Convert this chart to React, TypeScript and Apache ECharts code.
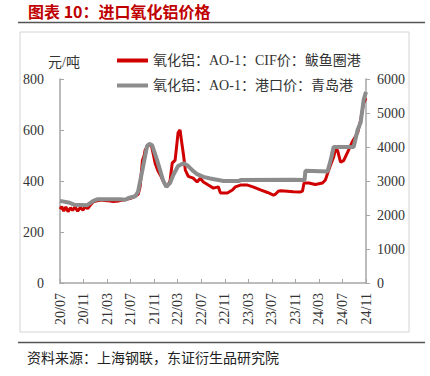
import React, { useEffect, useRef } from "react";
import * as echarts from "echarts";

const TICK_LABELS = ["20/07", "20/11", "21/03", "21/07", "21/11", "22/03", "22/07", "22/11", "23/03", "23/07", "23/11", "24/03", "24/07", "24/11"];

const SERIES_NAMES = ["氧化铝：AO-1：CIF价：鲅鱼圈港", "氧化铝：AO-1：港口价：青岛港"];

const CIF_DATES = [
  "2020-07-01", "2020-07-10", "2020-07-20", "2020-08-01", "2020-08-12", "2020-08-25", "2020-09-05", "2020-09-18",
  "2020-10-01", "2020-10-15", "2020-10-28", "2020-11-10", "2020-11-22", "2020-12-05", "2020-12-20", "2021-01-10",
  "2021-02-01", "2021-03-01", "2021-04-01", "2021-05-01", "2021-06-01", "2021-07-01", "2021-07-24", "2021-08-10",
  "2021-08-20", "2021-09-01", "2021-09-10", "2021-09-15", "2021-10-01", "2021-10-15", "2021-10-28", "2021-11-06",
  "2021-11-20", "2021-12-05", "2021-12-20", "2022-01-07", "2022-01-22", "2022-02-03", "2022-02-18", "2022-03-03",
  "2022-03-13", "2022-03-20", "2022-04-01", "2022-04-10", "2022-04-25", "2022-05-20", "2022-06-10", "2022-06-26",
  "2022-07-12", "2022-08-07", "2022-09-03", "2022-09-28", "2022-10-09", "2022-11-14", "2022-12-10", "2022-12-25",
  "2023-01-21", "2023-02-27", "2023-03-28", "2023-05-03", "2023-06-09", "2023-07-09", "2023-07-19", "2023-08-04",
  "2023-08-15", "2023-09-20", "2023-10-20", "2023-11-27", "2023-12-07", "2023-12-15", "2024-01-10", "2024-02-12",
  "2024-03-19", "2024-04-04", "2024-04-21", "2024-05-16", "2024-05-26", "2024-06-06", "2024-06-21", "2024-07-07",
  "2024-07-28", "2024-08-22", "2024-09-18", "2024-10-04", "2024-10-19", "2024-11-01"
];
const CIF_VALUES = [
  290, 300, 282, 298, 280, 295, 285, 298,
  282, 296, 286, 300, 292, 305, 318, 322,
  325, 323, 320, 322, 326, 332, 340, 348,
  380, 480, 500, 521, 540, 545, 500, 470,
  440, 420, 395, 377, 400, 470, 482, 590,
  600, 560, 500, 443, 418, 411, 396, 411,
  396, 384, 372, 377, 353, 353, 365, 377,
  384, 384, 376, 365, 355, 345, 348, 360,
  362, 360, 358, 357, 360, 392, 392, 386,
  392, 404, 443, 494, 525, 520, 474, 480,
  514, 555, 588, 640, 706, 725
];

const PORT_DATES = [
  "2020-07-01", "2020-08-20", "2020-09-15", "2020-11-20", "2020-12-19", "2021-01-10", "2021-05-07", "2021-06-03",
  "2021-06-20", "2021-07-24", "2021-08-09", "2021-09-01", "2021-09-25", "2021-10-06", "2021-10-21", "2021-11-16",
  "2021-12-16", "2022-01-02", "2022-01-22", "2022-02-08", "2022-03-03", "2022-04-01", "2022-04-25", "2022-05-15",
  "2022-06-10", "2022-07-12", "2022-08-17", "2022-10-25", "2023-01-15", "2023-01-21", "2023-10-16", "2023-12-18",
  "2023-12-22", "2024-04-15", "2024-05-01", "2024-05-16", "2024-08-28", "2024-09-18", "2024-10-04", "2024-10-19",
  "2024-11-01"
];
const PORT_VALUES = [
  2415, 2360, 2300, 2290, 2410, 2460, 2460, 2450,
  2500, 2550, 2685, 3320, 4030, 4090, 4050, 3615,
  3030, 2830, 2940, 3170, 3440, 3525, 3440, 3320,
  3200, 3120, 3075, 3000, 3000, 3030, 3040, 3030,
  3300, 3280, 3615, 4000, 4000, 4500, 4730, 5385,
  5620
];

function toMonth(d: string): number {
  const [y, m, dd] = d.split("-").map(Number);
  return (y - 2020) * 12 + (m - 7) + (dd - 1) / 30;
}

const FONT = "'Liberation Serif', 'Noto Sans CJK SC', serif";
const AXIS_COLOR = "#a6a6a6";
const TEXT_COLOR = "#333333";

export default function App() {
  const ref = useRef<HTMLDivElement>(null);
  useEffect(() => {
    document.body.style.margin = "0";
    if (!ref.current) return;
    const chart = echarts.init(ref.current, null, { renderer: "svg" });
    const cif = CIF_DATES.map((d, i) => [toMonth(d), CIF_VALUES[i]]);
    const port = PORT_DATES.map((d, i) => [toMonth(d), PORT_VALUES[i]]);
    chart.setOption({
      animation: false,
      backgroundColor: "#ffffff",
      textStyle: { fontFamily: FONT },
      grid: { left: 60, right: 64, top: 79, bottom: 93, containLabel: false },
      legend: {
        orient: "vertical",
        left: 112,
        top: 47,
        icon: "rect",
        itemWidth: 31,
        itemHeight: 4,
        itemGap: 8,
        textStyle: { fontFamily: FONT, fontSize: 14, color: TEXT_COLOR, lineHeight: 17 },
        data: SERIES_NAMES,
      },
      xAxis: {
        type: "value",
        min: 0,
        max: 52,
        interval: 4,
        axisLine: { lineStyle: { color: AXIS_COLOR, width: 1.5 } },
        axisTick: { inside: true, length: 4, lineStyle: { color: AXIS_COLOR } },
        splitLine: { show: false },
        axisLabel: {
          rotate: 90,
          margin: 10,
          fontSize: 14,
          color: TEXT_COLOR,
          fontFamily: FONT,
          formatter: (v: number) => TICK_LABELS[Math.round(v / 4)] ?? "",
        },
      },
      yAxis: [
        {
          type: "value",
          min: 0,
          max: 800,
          interval: 200,
          name: "元/吨",
          nameGap: 10,
          nameTextStyle: { fontSize: 14, color: TEXT_COLOR, fontFamily: FONT, padding: [0, 0, 0, 8] },
          axisLine: { show: true, lineStyle: { color: AXIS_COLOR, width: 1.5 } },
          axisTick: { show: true, inside: true, length: 4, lineStyle: { color: AXIS_COLOR } },
          splitLine: { show: false },
          axisLabel: { fontSize: 14, color: TEXT_COLOR, margin: 16, fontFamily: FONT },
        },
        {
          type: "value",
          min: 0,
          max: 6000,
          interval: 1000,
          position: "right",
          axisLine: { show: true, lineStyle: { color: AXIS_COLOR, width: 1.5 } },
          axisTick: { show: true, inside: false, length: 4, lineStyle: { color: AXIS_COLOR } },
          splitLine: { show: false },
          axisLabel: { fontSize: 14, color: TEXT_COLOR, margin: 11, fontFamily: FONT, formatter: (v: number) => String(v) },
        },
      ],
      series: [
        {
          name: SERIES_NAMES[0],
          type: "line",
          yAxisIndex: 0,
          data: cif,
          symbol: "none",
          lineStyle: { color: "#d00000", width: 3 },
          itemStyle: { color: "#d00000" },
          z: 2,
        },
        {
          name: SERIES_NAMES[1],
          type: "line",
          yAxisIndex: 1,
          data: port,
          symbol: "none",
          lineStyle: { color: "#8c8c8c", width: 4 },
          itemStyle: { color: "#8c8c8c" },
          z: 3,
        },
      ],
      graphic: [
        {
          type: "text",
          left: 28,
          top: 3,
          style: { text: "图表 10：进口氧化铝价格", fill: "#c00000", font: "bold 16px 'Noto Sans CJK SC', sans-serif" },
        },
        { type: "line", shape: { x1: 18, y1: 22.5, x2: 425, y2: 22.5 }, style: { stroke: "#555555", lineWidth: 1.5 } },
        { type: "rect", shape: { x: 20, y: 32, width: 389, height: 300 }, style: { fill: "none", stroke: "#d4d4d4", lineWidth: 1 }, z: -1 },
        { type: "line", shape: { x1: 18, y1: 342.5, x2: 425, y2: 342.5 }, style: { stroke: "#555555", lineWidth: 1.5 } },
        {
          type: "text",
          left: 27,
          top: 350,
          style: { text: "资料来源：上海钢联，东证衍生品研究院", fill: "#222222", font: "14px 'Noto Sans CJK SC', sans-serif" },
        },
      ],
    });
    return () => chart.dispose();
  }, []);
  return <div ref={ref} style={{ width: 430, height: 376 }} />;
}
